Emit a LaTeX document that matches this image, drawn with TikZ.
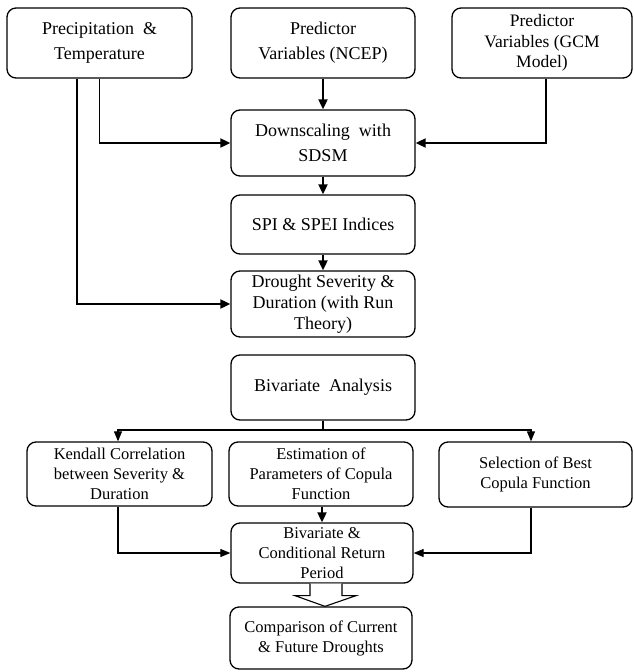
\documentclass[tikz,border=0pt]{standalone}
\usepackage{fontspec}
\setmainfont{Liberation Serif}
\usetikzlibrary{arrows.meta,calc}
\tikzset{
  box/.style={draw, line width=1.3pt, rounded corners=9pt, align=center, inner sep=2pt},
  big/.style={font=\fontsize{18}{21}\selectfont},
  bigtwo/.style={font=\fontsize{18}{25}\selectfont},
  small/.style={font=\fontsize{16.5}{20}\selectfont},
  arrthick/.style={line width=1.9pt, -{Triangle[length=10pt,width=9pt]}},
  arrthin/.style={line width=1.1pt, -{Triangle[length=10pt,width=8pt]}},
  linethin/.style={line width=1.1pt},
}
\begin{document}
\begin{tikzpicture}[x=1pt,y=-1pt]
\useasboundingbox (0,0) rectangle (633,672);
% top row
\node[box,bigtwo,minimum width=185pt,minimum height=70pt] (pt) at (99.5,43) {Precipitation\ \ \&\\Temperature};
\node[box,bigtwo,minimum width=184pt,minimum height=70pt] (ncep) at (323,43) {Predictor\\Variables (NCEP)};
\node[box,font=\fontsize{17.5}{20.5}\selectfont,minimum width=180pt,minimum height=70pt] (gcm) at (542,43) {Predictor\\Variables (GCM\\Model)};
% main column
\node[box,bigtwo,minimum width=184pt,minimum height=66pt] (down) at (323,143) {Downscaling\ \ with\\SDSM};
\node[box,big,minimum width=184pt,minimum height=59pt] (spi) at (323,224.5) {SPI \& SPEI Indices};
\node[box,big,minimum width=184pt,minimum height=66pt] (drought) at (323,304) {Drought Severity \&\\Duration (with Run\\Theory)};
\node[box,big,minimum width=184pt,minimum height=65pt] (biv) at (323,387.5) {Bivariate\ \ Analysis};
% second row
\node[box,small,minimum width=185pt,minimum height=64pt] (kendall) at (119.5,474) {Kendall Correlation\\between Severity \&\\Duration};
\node[box,small,minimum width=184pt,minimum height=64pt] (est) at (321,474) {Estimation of\\Parameters of Copula\\Function};
\node[box,small,minimum width=193pt,minimum height=65pt] (sel) at (535.5,474.5) {Selection of Best\\Copula Function};
\node[box,small,minimum width=182pt,minimum height=60pt] (bivcond) at (322,553) {Bivariate \&\\Conditional Return\\Period};
\node[box,small,minimum width=182pt,minimum height=62pt] (comp) at (321,638) {Comparison of Current\\\& Future Droughts};
% connectors top
\draw[arrthick] ([xshift=-22.5pt]pt.south) |- (drought.west);
\draw[arrthick] (pt.south) |- (down.west);
\draw[arrthick] (ncep.south) -- (down.north);
\draw[arrthick] ([xshift=4pt]gcm.south) |- (down.east);
\draw[arrthick] (down.south) -- (spi.north);
\draw[arrthick] (spi.south) -- (drought.north);
% branch
\coordinate (br) at (323,430);
\draw[linethin] (biv.south) -- (br);
\draw[arrthin] (br) -| ([xshift=-1.5pt]kendall.north);
\draw[arrthin] (br) -| ([xshift=-4.5pt]sel.north);
\draw[arrthick] ([xshift=1pt]est.south) -- (bivcond.north);
\draw[arrthin] ([xshift=-1.5pt]kendall.south) |- (bivcond.west);
\draw[arrthin] ([xshift=-4.5pt]sel.south) |- (bivcond.east);
% hollow arrow
\draw[line width=1.1pt,fill=white,line join=miter]
  ($(bivcond.south)+(-12,0)$) -- ($(bivcond.south)+(-12,12)$) -- ($(bivcond.south)+(-27,12)$)
  -- ($(comp.north)+(4,0)$) -- ($(bivcond.south)+(34,12)$) -- ($(bivcond.south)+(20,12)$)
  -- ($(bivcond.south)+(20,0)$);
\end{tikzpicture}
\end{document}
